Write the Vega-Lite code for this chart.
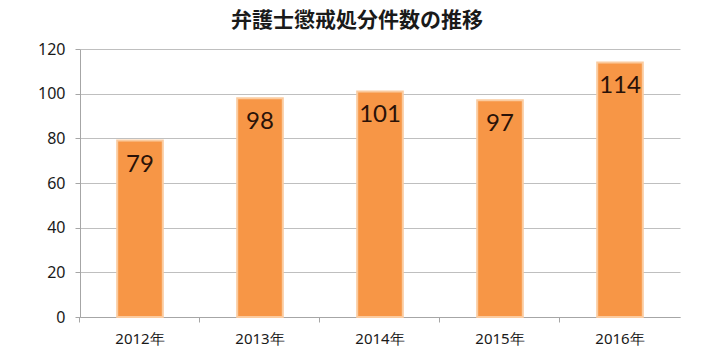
{
  "$schema": "https://vega.github.io/schema/vega-lite/v6.json",
  "width": 600,
  "height": 268,
  "autosize": "none",
  "padding": {"left": 80, "top": 49, "right": 40, "bottom": 43},
  "background": "white",
  "title": {
    "text": "弁護士懲戒処分件数の推移",
    "font": "Noto Sans CJK JP",
    "fontSize": 21,
    "fontWeight": "bold",
    "color": "#1a1a1a",
    "anchor": "middle",
    "dx": -23,
    "offset": 10
  },
  "data": {
    "values": [
      {"year": "2012年", "count": 79},
      {"year": "2013年", "count": 98},
      {"year": "2014年", "count": 101},
      {"year": "2015年", "count": 97},
      {"year": "2016年", "count": 114}
    ]
  },
  "config": {
    "view": {"stroke": null},
    "axis": {"labelFont": "Noto Sans", "labelColor": "#1a1a1a"}
  },
  "encoding": {
    "x": {
      "field": "year",
      "type": "nominal",
      "sort": null,
      "scale": {"paddingInner": 0.62, "paddingOuter": 0.31},
      "axis": {
        "title": null,
        "labelAngle": 0,
        "labelFontSize": 15,
        "labelPadding": 9,
        "bandPosition": -0.8158,
        "labelOffset": 0,
        "tickSize": 5,
        "tickColor": "#a6a6a6",
        "domainColor": "#a6a6a6",
        "grid": false
      }
    },
    "y": {
      "field": "count",
      "type": "quantitative",
      "scale": {"domain": [0, 120], "nice": false},
      "axis": {
        "title": null,
        "values": [0, 20, 40, 60, 80, 100, 120],
        "labelFontSize": 16,
        "labelPadding": 10,
        "tickSize": 5,
        "tickColor": "#a6a6a6",
        "domainColor": "#a6a6a6",
        "gridColor": "#bfbfbf",
        "grid": true
      }
    }
  },
  "layer": [
    {
      "mark": {"type": "bar", "color": "#F79646", "stroke": "#FBCB9F", "strokeWidth": 2}
    },
    {
      "mark": {"type": "text", "baseline": "middle", "dy": 24, "fontSize": 24, "font": "Lato", "color": "#2a1208"},
      "encoding": {"text": {"field": "count", "type": "quantitative"}}
    }
  ]
}
